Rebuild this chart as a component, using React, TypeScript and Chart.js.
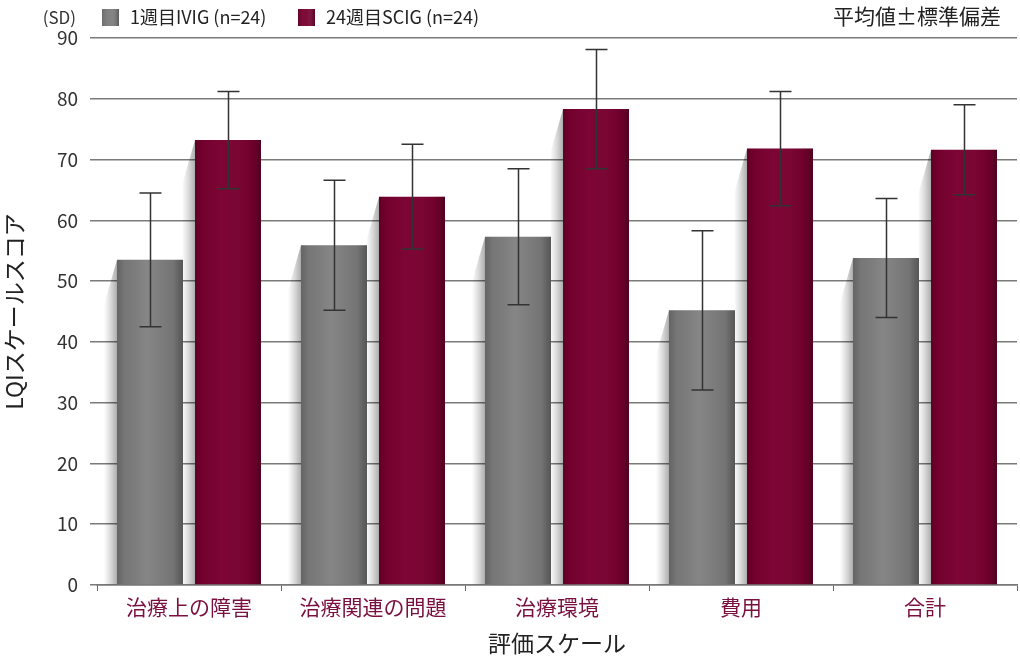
import React, { useEffect, useRef } from "react";
import { Chart, registerables } from "chart.js";

Chart.register(...registerables);

const categories = ["治療上の障害", "治療関連の問題", "治療環境", "費用", "合計"];
const ivigMean = [53.5, 55.9, 57.3, 45.2, 53.8];
const ivigSD = [11.0, 10.7, 11.2, 13.1, 9.8];
const scigMean = [73.2, 63.9, 78.3, 71.8, 71.6];
const scigSD = [8.0, 8.6, 9.8, 9.4, 7.4];
const seriesLabels = ["1週目IVIG (n=24)", "24週目SCIG (n=24)"];
const yTitle = "LQIスケールスコア";
const xTitle = "評価スケール";
const sdLabel = "(SD)";
const noteLabel = "平均値±標準偏差";

const FONT = "'Noto Sans CJK JP', 'Noto Sans', sans-serif";
const GRAY = "#7d7d7d";
const RED = "#790030";

const sds = [ivigSD, scigSD];

const shadowPlugin = {
  id: "barShadow",
  beforeDatasetsDraw(chart: any) {
    const { ctx, chartArea } = chart;
    ctx.save();
    ctx.beginPath();
    ctx.rect(chartArea.left, chartArea.top, chartArea.right - chartArea.left, chartArea.bottom - chartArea.top);
    ctx.clip();
    chart.data.datasets.forEach((_: any, di: number) => {
      const meta = chart.getDatasetMeta(di);
      meta.data.forEach((bar: any) => {
        const { x, y, base, width } = bar.getProps(["x", "y", "base", "width"], true);
        const xl = x - width / 2;
        const sw = 13;
        const g = ctx.createLinearGradient(xl, 0, xl - sw, 0);
        g.addColorStop(0, "rgba(0,0,0,0.32)");
        g.addColorStop(0.5, "rgba(0,0,0,0.14)");
        g.addColorStop(1, "rgba(0,0,0,0)");
        ctx.fillStyle = g;
        ctx.beginPath();
        ctx.moveTo(xl, y);
        ctx.lineTo(xl - sw, y + 45);
        ctx.lineTo(xl - sw, base);
        ctx.lineTo(xl, base);
        ctx.closePath();
        ctx.fill();
      });
    });
    ctx.restore();
  },
  afterDatasetsDraw(chart: any) {
    const { ctx } = chart;
    const yScale = chart.scales.y;
    ctx.save();
    chart.data.datasets.forEach((ds: any, di: number) => {
      const meta = chart.getDatasetMeta(di);
      meta.data.forEach((bar: any) => {
        const { x, y, base, width } = bar.getProps(["x", "y", "base", "width"], true);
        const xl = x - width / 2;
        const g = ctx.createLinearGradient(xl, 0, xl + width, 0);
        g.addColorStop(0, "rgba(0,0,0,0.2)");
        g.addColorStop(0.12, "rgba(0,0,0,0.05)");
        g.addColorStop(0.45, di === 0 ? "rgba(255,255,255,0.07)" : "rgba(255,255,255,0.02)");
        g.addColorStop(0.85, "rgba(0,0,0,0.07)");
        g.addColorStop(1, "rgba(0,0,0,0.32)");
        ctx.fillStyle = g;
        ctx.fillRect(xl, y, width, base - y);
      });
    });
    // error bars
    ctx.strokeStyle = "#333";
    ctx.lineWidth = 1.5;
    chart.data.datasets.forEach((ds: any, di: number) => {
      const meta = chart.getDatasetMeta(di);
      meta.data.forEach((bar: any, i: number) => {
        const m = ds.data[i];
        const s = sds[di][i];
        const yt = yScale.getPixelForValue(m + s);
        const yb = yScale.getPixelForValue(m - s);
        const x = Math.round(bar.x) + 0.5;
        ctx.beginPath();
        ctx.moveTo(x, yt);
        ctx.lineTo(x, yb);
        ctx.moveTo(x - 11, yt);
        ctx.lineTo(x + 11, yt);
        ctx.moveTo(x - 11, yb);
        ctx.lineTo(x + 11, yb);
        ctx.stroke();
      });
    });
    ctx.restore();
  },
  afterDraw(chart: any) {
    const { ctx } = chart;
    ctx.save();
    ctx.textBaseline = "middle";
    ctx.fillStyle = "#333";
    ctx.font = `17px ${FONT}`;
    ctx.textAlign = "right";
    ctx.fillText(sdLabel, 76, 18);
    const items = [
      { x: 102, color: GRAY, text: seriesLabels[0] },
      { x: 298, color: RED, text: seriesLabels[1] },
    ];
    items.forEach((it) => {
      ctx.fillStyle = it.color;
      ctx.fillRect(it.x, 9, 17, 17);
      const g = ctx.createLinearGradient(it.x, 0, it.x + 17, 0);
      g.addColorStop(0, "rgba(0,0,0,0.15)");
      g.addColorStop(0.5, "rgba(255,255,255,0.04)");
      g.addColorStop(1, "rgba(0,0,0,0.3)");
      ctx.fillStyle = g;
      ctx.fillRect(it.x, 9, 17, 17);
      ctx.fillStyle = "#222";
      ctx.font = `18px ${FONT}`;
      ctx.textAlign = "left";
      ctx.fillText(it.text, it.x + 28, 17);
    });
    ctx.font = `21px ${FONT}`;
    ctx.textAlign = "right";
    ctx.fillStyle = "#222";
    ctx.fillText(noteLabel, 1001, 16);
    ctx.restore();
  },
};

export default function App() {
  const ref = useRef<HTMLCanvasElement | null>(null);
  useEffect(() => {
    if (!ref.current) return;
    const chart = new Chart(ref.current, {
      type: "bar",
      data: {
        labels: categories,
        datasets: [
          {
            label: seriesLabels[0],
            data: ivigMean,
            backgroundColor: GRAY,
            categoryPercentage: 0.848,
            barPercentage: 0.846,
          },
          {
            label: seriesLabels[1],
            data: scigMean,
            backgroundColor: RED,
            categoryPercentage: 0.848,
            barPercentage: 0.846,
          },
        ],
      },
      options: {
        animation: false,
        responsive: false,
        devicePixelRatio: 1,
        layout: { padding: { top: 38, right: 3, left: 0, bottom: 0 } },
        plugins: {
          legend: { display: false },
          tooltip: { enabled: false },
        },
        scales: {
          x: {
            offset: true,
            grid: {
              offset: true,
              drawOnChartArea: false,
              drawTicks: true,
              tickLength: 6,
              color: "#666",
              lineWidth: 1,
            },
            border: { display: true, color: "#777", width: 1.5 },
            ticks: {
              color: "#7a1040",
              font: { family: FONT, size: 21 },
              padding: 3,
              maxRotation: 0,
            },
            title: {
              display: true,
              text: xTitle,
              color: "#222",
              font: { family: FONT, size: 23 },
              padding: { top: 0, bottom: 3 },
            },
            afterFit: (scale: any) => {
              scale.height = 75;
            },
          },
          y: {
            min: 0,
            max: 90,
            grid: {
              color: "#7a7a7a",
              lineWidth: 1.5,
              drawTicks: true,
              tickLength: 7,
            },
            border: { display: false },
            ticks: {
              stepSize: 10,
              color: "#333",
              font: { family: FONT, size: 19 },
              padding: 12,
            },
            title: {
              display: true,
              text: yTitle,
              color: "#222",
              font: { family: FONT, size: 23 },
              padding: { top: 0, bottom: 0 },
            },
            afterFit: (scale: any) => {
              scale.width = 97;
            },
          },
        },
      },
      plugins: [shadowPlugin],
    });
    return () => chart.destroy();
  }, []);
  return (
    <div style={{ position: "absolute", left: 0, top: 0, width: 1020, height: 660, background: "#fff" }}>
      <canvas ref={ref} width={1020} height={660} />
    </div>
  );
}
